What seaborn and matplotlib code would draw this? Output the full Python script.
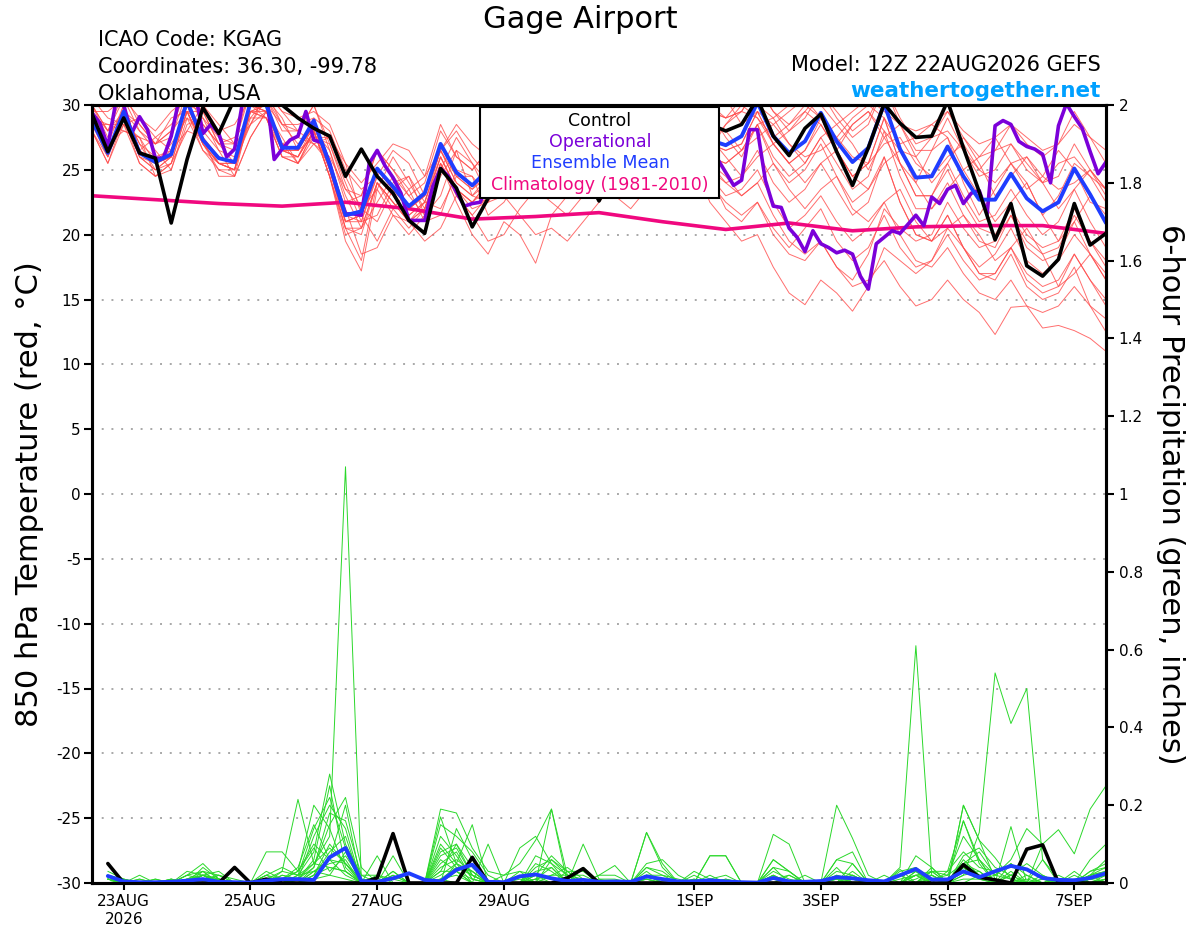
import numpy as np
import pandas as pd
import seaborn as sns
from matplotlib import pyplot as plt
from matplotlib.patches import Rectangle

px = 1/100

# ---- data (6-hourly from 12Z 22AUG2026) ----
run_start = pd.Timestamp('2026-08-22 12:00')

control_t = [29.3,26.4,29.0,26.3,25.9,20.9,25.8,29.8,27.8,30.5,31.5,31.0,30.0,
             29.0,28.2,27.6,24.5,26.6,24.5,23.2,21.1,20.1,25.1,23.6,20.6,22.8,
             25.5,27.0,26.0,27.5,26.0,25.0,22.6,25.0,27.0,28.0,27.0,28.5,29.0,
             28.5,28.0,28.5,30.5,27.6,26.1,28.2,29.3,26.4,23.8,26.7,30.1,28.6,
             27.5,27.6,30.3,26.7,23.3,19.6,22.4,17.6,16.8,18.1,22.4,19.2,20.1]

mean_t = [28.8,26.3,29.5,26.3,25.6,26.2,30.3,27.3,25.9,25.6,30.2,30.0,26.7,
          26.7,28.8,25.4,21.5,21.8,25.1,23.7,22.2,23.2,27.0,24.8,23.8,25.0,
          26.0,27.0,26.5,27.5,27.0,26.0,25.5,26.5,27.5,28.0,27.5,28.0,28.5,
          27.3,26.9,27.6,30.2,27.6,26.3,27.2,29.4,27.2,25.6,26.7,30.1,26.6,
          24.4,24.5,26.8,24.5,22.7,22.7,24.7,22.8,21.8,22.5,25.1,23.1,20.9]

# operational run is 3-hourly
oper_t = [29.4,28.6,26.8,30.2,30.0,27.8,29.1,28.1,25.9,25.9,27.6,30.5,31.5,31.0,27.8,28.5,
          27.8,26.0,26.6,30.2,31.5,32.0,31.0,25.8,26.6,27.3,27.6,29.5,27.3,27.1,25.5,23.4,
          21.6,21.6,21.5,25.5,26.5,25.3,24.4,23.2,21.1,21.1,21.1,23.7,25.1,24.5,23.3,22.2,
          22.4,22.5,24.0,25.5,26.5,27.0,28.0,27.5,28.5,29.0,30.5,31.0,30.0,29.0,28.0,28.5,
          27.5,27.0,28.0,29.0,30.5,31.0,30.0,29.5,28.0,27.5,28.5,29.5,28.5,27.0,26.5,25.8,
          24.8,23.8,24.2,28.1,28.1,24.2,22.2,22.1,20.5,19.8,18.7,20.3,19.3,19.0,18.6,18.8,
          18.5,16.8,15.8,19.3,19.8,20.3,20.1,20.8,21.5,20.7,22.9,22.4,23.5,23.8,22.4,23.2,
          23.4,21.6,28.4,28.8,28.5,27.2,26.8,26.6,26.2,24.0,28.4,30.1,29.1,28.2,26.4,24.7,
          25.6]

# daily climatology
clim_t = [23.0,22.7,22.4,22.2,22.5,22.0,21.2,21.4,21.7,21.0,20.4,20.9,20.3,20.6,20.7,20.7,20.1]

members_t = [
    [30.0,28.0,31.0,28.5,27.0,28.0,31.5,29.0,27.5,27.0,31.5,31.0,28.5,
     28.0,30.0,27.0,23.5,23.0,26.5,25.0,23.5,24.5,28.5,26.0,25.0,26.5,
     28.0,29.0,28.0,29.5,29.0,28.0,27.5,28.5,29.5,30.5,29.0,30.0,30.5,
     29.5,29.0,29.5,31.5,29.5,28.5,29.5,31.0,29.5,28.0,29.0,31.5,29.0,
     27.0,27.5,29.5,27.5,26.0,26.5,28.5,27.0,26.0,27.0,29.5,27.5,25.5],
    [28.0,25.5,28.5,25.5,24.5,25.0,29.0,26.5,25.0,24.5,29.5,29.0,26.0,
     25.5,28.0,24.5,20.0,20.5,24.0,22.5,21.0,22.0,26.0,23.5,22.5,23.5,
     25.0,26.0,25.0,26.5,26.0,25.0,24.5,25.5,26.5,27.0,26.5,27.0,27.5,
     26.0,25.5,26.5,28.5,25.5,24.0,25.0,27.0,24.5,22.5,23.5,26.0,22.5,
     20.0,19.5,21.5,19.0,17.0,16.5,18.5,16.0,15.0,15.5,17.5,14.5,12.5],
    [29.0,26.5,29.5,27.0,25.0,26.0,30.0,27.5,26.0,25.5,30.0,29.5,27.0,
     26.5,28.5,25.5,21.0,21.5,25.0,23.5,22.0,23.0,26.5,24.5,23.5,24.5,
     25.5,26.5,26.0,27.0,26.5,25.5,25.0,26.0,27.0,27.5,27.0,27.5,27.0,
     25.5,24.0,23.0,24.0,21.5,19.5,18.5,19.5,17.5,16.0,16.5,18.0,16.0,
     14.5,15.0,16.5,15.0,14.0,12.3,14.4,14.5,12.8,13.0,12.6,12.0,11.0],
    [28.5,28.5,28.0,27.5,27.0,29.0,29.5,28.5,27.0,27.5,29.0,30.5,28.5,
     27.0,28.0,26.5,23.0,20.5,22.5,24.5,23.0,21.5,24.5,26.5,23.0,22.5,
     24.5,26.5,28.0,27.0,26.0,27.5,28.5,27.0,26.5,28.0,29.0,28.0,27.0,
     26.5,28.5,29.5,29.0,27.5,28.5,30.0,29.0,27.0,28.5,29.5,28.0,26.5,
     26.0,27.5,28.0,26.5,25.0,26.5,27.0,25.5,24.0,25.5,26.0,24.5,23.5],
    [29.0,26.0,30.0,26.5,25.5,26.5,30.0,27.0,25.5,25.0,30.0,29.5,26.5,
     26.5,28.5,25.0,21.0,21.5,25.0,23.5,22.0,23.0,27.0,24.5,23.5,25.0,
     26.0,27.0,26.5,27.5,27.0,25.5,24.5,26.0,26.5,27.0,26.0,26.5,25.5,
     22.5,21.0,19.5,20.0,17.5,15.5,14.6,16.5,15.5,14.1,16.0,19.0,18.0,
     17.0,18.0,20.5,19.0,17.5,18.5,20.5,18.0,17.0,18.0,20.0,18.5,17.0],
    [28.0,26.0,29.5,26.0,25.5,26.0,29.5,27.0,25.5,25.5,29.5,30.0,26.5,
     26.0,28.0,24.5,19.5,17.2,23.5,21.5,20.0,21.5,25.5,23.0,21.5,23.0,
     25.0,26.0,25.5,27.0,26.0,25.0,24.5,26.0,27.0,28.0,27.5,28.0,28.5,
     27.0,26.5,27.0,29.5,27.0,25.5,26.5,28.5,26.5,24.5,25.5,29.0,25.5,
     23.0,23.0,25.0,22.5,20.5,20.0,22.0,20.0,19.0,19.5,22.0,19.5,17.5],
    [30.5,29.0,28.5,29.0,27.5,26.5,28.0,30.0,28.5,27.0,28.5,31.0,29.5,
     28.0,27.0,27.5,24.5,22.0,23.5,26.0,24.0,22.0,25.0,27.5,25.5,24.0,
     27.5,29.5,28.5,27.5,29.0,28.5,27.0,28.5,29.5,28.0,29.5,30.5,29.0,
     27.0,28.5,30.0,29.0,27.0,28.0,29.5,28.5,26.5,28.5,29.5,27.5,25.5,
     24.0,26.5,27.5,24.0,21.5,23.5,25.5,24.0,21.5,23.0,25.5,24.5,22.5],
    [28.5,26.5,29.5,27.0,26.0,26.5,30.0,27.5,26.0,25.5,30.0,29.0,26.0,
     26.0,28.0,25.0,20.5,18.0,24.0,22.0,20.5,22.0,25.5,22.5,20.0,18.5,
     21.0,20.0,17.8,21.5,23.0,24.0,24.0,25.0,26.0,27.0,26.5,27.0,27.5,
     26.0,25.5,26.5,28.5,26.0,24.5,25.5,27.5,25.5,23.5,24.5,28.0,24.5,
     22.0,22.0,24.0,21.5,19.5,19.0,21.5,19.0,18.0,18.5,21.0,18.5,16.5],
    [29.5,28.0,29.5,28.5,27.0,28.0,29.5,29.5,27.0,26.5,29.5,30.0,28.5,
     28.5,29.0,28.0,25.0,23.5,24.5,26.5,25.5,23.0,26.5,28.0,26.0,24.5,
     26.5,29.0,29.5,28.0,27.5,29.5,30.5,29.0,28.0,29.5,30.5,29.0,28.5,
     29.5,30.5,28.5,29.5,28.5,29.5,30.5,29.0,27.5,29.0,30.0,29.0,27.0,
     27.5,28.5,27.5,25.0,26.0,27.5,25.5,23.5,24.5,26.5,25.0,22.5,22.0],
    [28.5,26.0,29.0,26.0,25.0,26.0,29.5,27.0,25.0,25.0,29.5,29.5,26.5,
     26.0,28.5,25.0,21.0,21.0,24.5,23.0,21.5,22.5,26.5,24.0,23.0,24.0,
     25.5,26.5,26.0,27.0,26.5,25.5,25.0,26.0,27.0,27.5,27.0,27.5,27.0,
     24.5,23.0,23.5,25.0,22.5,20.5,21.5,23.0,21.0,19.5,20.5,22.5,20.0,
     18.0,17.5,19.0,17.0,15.5,15.0,16.5,14.5,14.0,14.5,16.0,14.5,13.5],
    [29.0,28.5,28.5,26.5,27.5,28.5,30.0,29.5,27.0,25.5,28.5,30.5,29.0,
     26.5,27.5,27.0,24.0,21.0,21.5,24.0,24.5,21.5,23.0,26.5,25.5,23.0,
     24.0,25.5,27.5,27.0,25.5,26.5,28.0,27.5,26.0,27.0,28.5,29.0,28.0,
     29.5,27.5,26.0,28.5,29.0,27.0,25.5,27.5,28.5,27.0,25.0,27.5,28.5,
     26.0,24.0,25.5,27.5,25.5,23.0,24.5,26.0,24.0,22.0,23.5,25.0,23.5],
    [28.0,25.5,29.0,25.5,24.5,25.5,29.5,26.5,25.5,25.0,29.0,29.0,26.0,
     25.5,28.0,24.5,20.5,20.0,24.0,22.5,21.0,22.5,26.0,23.5,22.5,24.0,
     25.0,26.0,25.5,26.5,26.0,25.0,24.5,25.5,26.5,27.5,27.0,27.5,28.0,
     27.0,26.5,27.0,29.5,27.0,25.5,26.5,29.0,26.5,24.5,25.5,29.0,25.5,
     23.0,23.0,25.5,23.0,21.0,21.5,23.5,21.5,20.0,21.0,23.5,21.0,19.0],
    [30.0,27.5,29.5,28.0,26.5,25.0,28.5,29.0,26.5,24.5,27.5,29.5,27.5,
     25.5,27.5,27.5,25.5,21.5,19.5,22.0,23.5,21.0,21.5,25.0,24.5,21.5,
     22.5,24.5,26.5,25.5,24.0,25.5,27.0,26.0,25.0,26.5,28.0,27.0,26.0,
     27.5,26.0,24.5,26.0,27.0,25.5,24.0,25.5,26.5,24.5,23.5,25.5,26.5,
     24.0,22.0,23.5,25.0,23.0,21.0,22.5,24.0,21.5,19.5,21.0,23.0,21.5],
    [29.0,26.5,29.5,26.5,25.5,26.0,30.0,27.0,25.5,25.5,30.0,29.5,26.5,
     26.5,28.5,25.0,21.0,21.5,24.5,23.0,21.5,22.5,26.0,23.5,22.0,22.5,
     23.0,21.5,20.0,20.5,19.5,21.0,22.5,24.0,25.0,26.0,25.5,26.0,26.5,
     25.0,24.0,24.5,26.5,24.0,22.5,23.5,25.5,23.5,21.5,22.5,26.0,22.5,
     20.0,19.5,21.5,19.0,17.0,17.0,19.0,16.5,15.5,16.0,18.5,16.5,14.5],
    [29.5,29.5,30.5,29.0,28.0,29.5,30.5,30.0,28.0,28.5,30.5,31.0,29.5,
     29.0,29.5,28.5,25.5,24.0,25.5,27.0,26.5,24.5,26.5,28.5,27.0,26.0,
     27.0,28.5,29.5,29.0,28.0,29.0,30.5,29.5,28.5,29.5,30.5,30.0,29.5,
     30.0,29.0,30.5,30.0,29.0,30.0,31.0,30.0,28.5,29.5,30.5,29.5,28.5,
     28.0,28.5,29.5,28.0,27.0,27.5,28.5,27.5,26.5,27.0,28.5,27.5,26.5],
    [28.5,27.0,28.0,27.5,25.5,27.0,29.0,28.0,26.5,26.0,28.5,29.5,27.0,
     27.5,27.0,26.0,23.5,22.0,21.0,23.5,24.5,22.5,22.0,24.5,24.5,23.0,
     24.5,25.0,26.5,26.5,25.0,25.5,27.0,26.5,25.5,26.0,27.5,27.0,26.5,
     28.5,28.0,26.5,27.5,28.5,27.0,26.0,26.5,27.5,26.0,25.5,27.0,27.5,
     25.5,24.5,26.0,27.0,25.0,24.0,25.5,26.0,24.5,23.5,24.0,25.0,23.5],
    [29.0,27.0,30.0,26.5,25.5,26.0,30.5,27.5,25.5,25.0,30.0,30.0,27.0,
     26.5,29.0,25.5,21.5,21.0,25.0,23.5,22.0,23.0,26.5,24.0,23.0,24.5,
     26.0,26.5,26.0,27.0,26.5,25.5,25.0,26.0,26.5,27.0,26.0,26.5,26.0,
     24.0,22.5,21.5,22.5,20.0,18.5,18.0,19.5,17.5,16.5,18.5,22.0,20.5,
     19.5,20.0,22.5,20.5,19.0,19.5,21.5,19.5,18.5,19.0,21.5,19.5,18.0],
    [30.0,28.0,30.5,28.0,27.0,27.5,31.0,28.5,27.0,27.0,31.0,30.5,28.0,
     28.0,30.0,26.5,22.5,23.0,26.5,25.0,23.0,24.0,28.0,26.0,25.0,26.5,
     28.0,29.0,28.5,29.5,29.0,28.0,27.5,28.5,29.5,30.0,29.5,30.0,30.5,
     29.5,29.0,29.5,31.5,29.5,28.0,29.0,31.0,29.0,27.5,28.5,31.5,28.5,
     26.5,26.5,29.0,26.5,24.5,25.0,27.0,25.0,24.0,24.5,27.0,25.0,23.0],
    [28.5,26.5,29.0,26.0,25.0,25.5,29.5,27.0,25.5,25.0,29.5,29.0,26.5,
     26.0,28.0,24.5,20.5,20.5,24.0,22.5,21.0,22.0,25.5,23.5,22.5,24.0,
     25.5,26.5,26.0,27.0,26.5,25.5,25.0,26.0,27.0,27.5,27.0,27.0,26.5,
     24.5,22.0,21.0,22.5,20.5,19.0,20.5,22.0,19.5,18.0,19.0,21.5,19.0,
     17.5,18.0,20.0,18.0,16.5,17.0,19.0,17.0,16.0,16.5,18.5,16.5,15.0],
    [29.5,26.5,28.5,27.5,24.5,25.5,28.0,27.5,24.5,24.5,27.5,29.5,27.0,
     25.5,27.0,25.5,22.0,18.5,19.0,21.5,21.0,19.5,20.5,23.0,21.5,19.5,
     20.0,22.0,23.5,22.5,21.5,23.0,24.0,23.0,22.0,23.5,25.0,24.5,23.5,
     25.5,24.5,23.0,24.0,25.5,23.5,22.0,23.5,24.5,22.0,21.0,22.5,23.5,
     21.0,19.5,20.5,21.5,20.0,18.0,19.0,20.5,18.5,16.0,17.0,18.5,16.5],
]

# 6-hour precipitation (inches), valid 18Z 22AUG .. 12Z 7SEP
control_p = [0.05,0,0,0,0,0,0,0,
             0.04,0,0.01,0,0,0,0,0,
             0,0.013,0.127,0,0,0,0,0.066,
             0,0,0,0,0,0.013,0.037,0,
             0,0,0,0,0,0,0,0,
             0,0,0,0,0,0,0,0,
             0,0,0,0,0,0,0.047,0.015,
             0.008,0,0.087,0.098,0,0,0,0]

mean_p = [0.018,0.004,0.002,0.002,0.003,0.006,0.010,0.003,
          0.002,0.001,0.006,0.010,0.010,0.008,0.066,0.090,
          0.005,0.003,0.012,0.025,0.008,0.004,0.034,0.047,
          0.003,0.002,0.017,0.022,0.012,0.005,0.008,0.003,
          0.004,0.003,0.017,0.010,0.004,0.004,0.007,0.004,
          0.002,0.001,0.013,0.004,0.003,0.005,0.015,0.012,
          0.007,0.004,0.020,0.036,0.009,0.009,0.030,0.015,
          0.030,0.044,0.035,0.013,0.008,0.007,0.013,0.025]

members_p = [
    [0.02,0,0,0,0,0.01,0.03,0, 0,0,0,0,0.02,0.05,0.12,1.07, 0.01,0,0.02,0,0,0,0.05,0.03,
     0,0,0,0.02,0.01,0,0,0, 0,0,0.02,0.01,0,0,0,0, 0,0,0.01,0,0,0,0.02,0.01,
     0,0,0,0.02,0,0,0.03,0.01, 0,0,0.01,0,0,0,0.02,0.03],
    [0.03,0.01,0,0,0,0,0.02,0, 0,0,0,0.03,0.02,0.08,0.28,0.1, 0.02,0,0,0,0,0,0.14,0.06,
     0,0,0,0.05,0.03,0,0.01,0, 0,0,0.05,0.06,0.02,0,0,0, 0,0,0,0.02,0,0,0,0.03,
     0,0,0,0,0.01,0.02,0.05,0.02, 0,0.02,0,0,0,0,0.01,0.02],
    [0.01,0,0.01,0,0,0,0.04,0.01, 0,0,0.01,0.03,0.215,0.05,0.04,0.03, 0,0,0,0,0,0.01,0.04,0.02,
     0,0,0.02,0,0.19,0.02,0,0, 0,0,0,0,0,0.02,0,0, 0,0,0.06,0.03,0,0,0,0.05,
     0,0,0,0.02,0,0,0.2,0.11, 0.065,0.01,0,0,0.01,0,0.03,0.04],
    [0.02,0.01,0,0,0,0.02,0.03,0.02, 0,0,0.08,0.08,0.03,0.2,0.14,0.03, 0,0,0.02,0,0,0.15,0.12,0.08,
     0.02,0,0,0.01,0,0,0.04,0, 0,0,0.13,0.04,0,0,0.01,0, 0,0,0.04,0,0,0,0.06,0.08,
     0,0,0.02,0,0.03,0.02,0.12,0.06, 0.02,0.05,0,0.01,0,0,0,0.01],
    [0.01,0,0,0.01,0,0.02,0.05,0.01, 0,0,0.02,0.01,0.04,0.15,0.06,0.02, 0,0,0,0,0,0.19,0.18,0.09,
     0.03,0.02,0.05,0.11,0.19,0,0,0.02, 0.045,0,0,0,0,0,0.07,0.07, 0,0,0,0,0.02,0,0,0.02,
     0,0,0,0,0.04,0,0.16,0.05, 0,0,0.02,0,0,0,0.02,0.06],
    [0.02,0,0,0,0.01,0,0.02,0.03, 0,0,0,0,0.01,0.12,0.2,0.14, 0,0,0.07,0,0,0.1,0.05,0.15,
     0,0,0,0.03,0.04,0,0.1,0.01, 0,0,0.04,0.03,0,0,0,0, 0,0,0,0,0,0,0,0,
     0,0,0.04,0.61,0.02,0,0,0.02, 0,0,0,0,0,0,0.02,0],
    [0,0,0.02,0,0,0.02,0.01,0.01, 0,0,0,0,0,0.04,0.15,0.22, 0.04,0,0.03,0,0,0,0.03,0,
     0.1,0,0.03,0,0,0,0,0, 0,0,0,0,0,0.01,0,0, 0,0,0.02,0,0,0,0,0,
     0,0,0,0,0,0,0.02,0.13, 0.54,0.41,0.5,0.06,0,0,0.01,0],
    [0.01,0,0,0,0,0,0,0.02, 0,0,0,0.01,0.03,0.1,0.06,0.2, 0,0,0,0,0,0.08,0.1,0.04,
     0,0.02,0.03,0.02,0,0,0,0, 0,0,0.13,0.05,0,0,0,0, 0,0,0,0,0,0,0.2,0.115,
     0.02,0,0.035,0,0.02,0,0.05,0.08, 0.02,0.06,0.14,0.1,0.137,0.075,0.19,0.25],
    [0,0.01,0,0,0.01,0,0.03,0, 0,0,0,0,0.02,0.14,0.22,0.09, 0,0.07,0,0,0,0.17,0.05,0,
     0,0,0.09,0.12,0.05,0,0.04,0, 0,0,0,0,0,0,0.01,0, 0,0,0.125,0.1,0,0,0,0,
     0,0,0,0,0.01,0,0.2,0.11, 0.01,0,0,0.02,0,0.03,0,0],
    [0,0,0,0,0,0.03,0.02,0, 0,0,0,0,0.01,0.06,0.25,0.04, 0,0,0,0,0,0.07,0.09,0.02,
     0,0,0,0.07,0.05,0.02,0.01,0, 0,0,0.04,0.02,0.01,0,0.07,0.07, 0,0,0.06,0.03,0,0,0.06,0.05,
     0,0,0,0.07,0.04,0,0.05,0.06, 0,0.145,0,0.1,0,0,0.06,0.1],
    [0.01,0,0,0,0,0,0.01,0.02, 0.01,0,0.02,0.04,0.02,0.03,0.05,0.06, 0,0.02,0,0,0,0.04,0.06,0.03,
     0,0,0,0,0,0,0,0.02, 0.02,0,0.02,0.02,0,0,0.01,0.02, 0,0,0.04,0.03,0,0,0,0,
     0,0,0,0,0.03,0,0.05,0.03, 0,0.05,0.02,0,0,0,0.02,0.04],
    [0,0,0.01,0,0.01,0,0.02,0.01, 0,0,0.03,0.01,0,0.02,0.08,0.12, 0,0,0,0,0,0.05,0.08,0.01,
     0,0,0,0.02,0.07,0.03,0,0, 0,0,0.01,0,0,0.03,0.01,0, 0,0,0.02,0,0,0,0.01,0.02,
     0,0,0,0.03,0,0.03,0.16,0.06, 0,0,0,0.01,0,0,0.01,0.02],
    [0,0,0,0,0,0.01,0.02,0.01, 0,0,0,0.02,0.01,0.04,0.18,0.16, 0.02,0.02,0.01,0,0,0.09,0.04,0.03,
     0,0,0,0.04,0.06,0.03,0.03,0, 0,0,0.01,0,0,0,0,0.01, 0,0,0.03,0.01,0,0,0.03,0.02,
     0,0,0.01,0.02,0.03,0.03,0.08,0.04, 0.03,0.01,0,0,0.02,0,0,0.01],
    [0.02,0,0,0,0,0,0.02,0, 0,0,0,0,0,0.02,0.1,0.05, 0.01,0,0,0,0,0.12,0.07,0.01,
     0,0,0.01,0,0.06,0.02,0.02,0, 0,0,0.02,0,0,0,0,0, 0,0,0.01,0,0,0,0,0.01,
     0,0.02,0,0.01,0.03,0,0.06,0.02, 0.01,0,0,0.06,0.01,0,0,0.01],
    [0,0,0,0.01,0,0.01,0.02,0, 0,0,0,0.01,0.03,0.09,0.03,0.07, 0.01,0,0,0,0,0.03,0.1,0.02,
     0,0,0,0.01,0.02,0.02,0,0.01, 0.01,0,0.02,0,0,0,0,0, 0,0,0,0,0,0,0,0.01,
     0,0,0.02,0.03,0,0,0.07,0.09, 0.04,0.02,0,0,0,0.02,0,0.01],
    [0.01,0,0,0,0,0,0.01,0, 0,0,0,0.02,0.01,0.05,0.09,0.05, 0,0,0,0,0,0.02,0.05,0.02,
     0,0,0,0,0.02,0.04,0.01,0, 0,0,0,0,0,0,0,0, 0,0,0.02,0,0,0,0.02,0,
     0,0,0,0.02,0.02,0,0.04,0.02, 0,0.02,0.05,0.02,0,0,0.03,0.05],
    [0.01,0,0,0,0,0.01,0,0.01, 0,0,0.02,0,0,0.03,0.06,0.05, 0,0,0.03,0,0,0.03,0.03,0,
     0,0,0,0,0,0.03,0,0, 0,0,0.03,0,0,0,0.02,0, 0,0,0,0,0,0,0.04,0,
     0,0,0.03,0.04,0.01,0,0.02,0.03, 0,0.03,0,0,0,0.01,0,0.02],
    [0,0,0,0,0,0,0,0.01, 0,0,0,0,0,0.02,0.04,0.03, 0,0,0,0,0,0.06,0.03,0.01,
     0,0,0,0.01,0.04,0,0,0, 0,0,0.01,0,0,0,0,0.01, 0,0,0.01,0.02,0,0,0.01,0,
     0,0,0,0.03,0,0,0.04,0.01, 0.02,0.01,0,0,0,0,0.02,0.03],
    [0.01,0,0,0,0,0,0,0, 0,0,0,0.01,0,0.03,0.02,0.08, 0,0,0,0,0,0.01,0.02,0,
     0,0,0,0,0,0.01,0,0, 0,0,0,0,0,0.01,0,0, 0,0,0,0,0,0,0.01,0.01,
     0,0,0,0,0.01,0,0.01,0.01, 0,0,0,0,0.01,0,0.01,0.02],
    [0,0,0,0,0,0,0.01,0, 0,0,0,0,0,0.01,0.02,0.01, 0,0,0,0,0,0.01,0,0,
     0,0,0,0,0,0,0,0, 0,0,0,0,0,0,0,0, 0,0,0,0,0,0,0,0,
     0,0,0,0,0.01,0,0,0, 0,0,0,0,0,0,0,0],
]

tick_days = ['2026-08-23', '2026-08-25', '2026-08-27', '2026-08-29',
             '2026-09-01', '2026-09-03', '2026-09-05', '2026-09-07']
tick_labels = ['23AUG\n2026', '25AUG', '27AUG', '29AUG', '1SEP', '3SEP', '5SEP', '7SEP']

assert len(control_t) == 65 and len(mean_t) == 65 and len(oper_t) == 129
assert all(len(m) == 65 for m in members_t), [len(m) for m in members_t]
assert len(control_p) == 64 and len(mean_p) == 64
assert all(len(m) == 64 for m in members_p), [len(m) for m in members_p]

times6 = pd.date_range(run_start, periods=65, freq='6h')
times3 = pd.date_range(run_start, periods=129, freq='3h')
times_clim = pd.date_range(run_start, periods=17, freq='24h')
times_p = times6[1:]

temp_df = pd.DataFrame({
    'time': np.tile(times6, len(members_t)),
    'temp': np.concatenate(members_t),
    'member': np.repeat(np.arange(len(members_t)), 65),
})
prcp_df = pd.DataFrame({
    'time': np.tile(times_p, len(members_p)),
    'prcp': np.concatenate(members_p),
    'member': np.repeat(np.arange(len(members_p)), 64),
})

# ---- figure ----
sns.set_style('ticks')
plt.rcParams['font.family'] = ['DejaVu Sans']
plt.rcParams.update({'text.color': 'black', 'axes.labelcolor': 'black',
                     'xtick.color': 'black', 'ytick.color': 'black'})

fig = plt.figure(figsize=(1200*px, 927*px), dpi=100)
ax = fig.add_axes([92/1200, 44/927, 1014/1200, 778/927])
ax2 = ax.twinx()

sns.lineplot(data=temp_df, x='time', y='temp', units='member', estimator=None,
             color='#ff4a4a', linewidth=0.7, alpha=0.8, legend=False, ax=ax)
sns.lineplot(x=times_clim, y=clim_t, color='#f0087f', linewidth=2.6, ax=ax)
sns.lineplot(x=times3, y=oper_t, color='#7b00d9', linewidth=2.6, ax=ax)
sns.lineplot(x=times6, y=mean_t, color='#1f3dff', linewidth=2.8, ax=ax)
sns.lineplot(x=times6, y=control_t, color='black', linewidth=2.6, ax=ax)

sns.lineplot(data=prcp_df, x='time', y='prcp', units='member', estimator=None,
             color='#2ad82a', linewidth=0.7, legend=False, ax=ax2)
sns.lineplot(x=times_p, y=control_p, color='black', linewidth=2.6, ax=ax2)
sns.lineplot(x=times_p, y=mean_p, color='#1f3dff', linewidth=2.8, ax=ax2)

x0 = run_start
x1 = run_start + pd.Timedelta(hours=384)
ax.set_xlim(x0, x1)
ax2.set_xlim(x0, x1)

ax.set_ylim(-30, 30)
ax.set_yticks(range(-30, 31, 5))
ax.set_yticklabels([str(v) for v in range(-30, 31, 5)])
ax2.set_ylim(0, 2)
p_ticks = [round(0.2 * i, 1) for i in range(11)]
ax2.set_yticks(p_ticks)
ax2.set_yticklabels(['0' if v == 0 else ('2' if v == 2 else f'{v:g}') for v in p_ticks])

ax.set_xticks([pd.Timestamp(d) for d in tick_days])
ax.set_xticklabels(tick_labels, multialignment='center')

ax.set_xlabel('')
ax.set_ylabel('')
ax2.set_ylabel('')

ax.grid(axis='y', linestyle=(0, (1, 4)), color='#a8a8a8', linewidth=1.4)
ax.grid(axis='x', visible=False)
ax.set_axisbelow(True)

for a in (ax, ax2):
    for s in a.spines.values():
        s.set_linewidth(2.2)
        s.set_color('black')
        s.set_visible(True)
ax.tick_params(axis='y', direction='out', length=6, width=1.5, labelsize=11, pad=2)
ax.tick_params(axis='x', direction='out', length=5, width=1.5, labelsize=11, pad=3)
ax2.tick_params(axis='y', direction='out', length=6, width=1.5, labelsize=11, pad=3)

# legend box
ax2.add_patch(Rectangle((0.3826, 0.8805), 0.2357, 0.117, transform=ax2.transAxes,
                        facecolor='white', edgecolor='black', linewidth=1.5, zorder=10))
leg_items = [('Control', 'black', 0.9794), ('Operational', '#7b00d9', 0.9524),
             ('Ensemble Mean', '#1f3dff', 0.9254), ('Climatology (1981-2010)', '#f0087f', 0.8972)]
for label, col, yy in leg_items:
    ax2.text(0.501, yy, label, color=col, fontsize=12.5, ha='center', va='center',
             transform=ax2.transAxes, zorder=11)

# titles and header
fig.text(580/1200, 1 - 28/927, 'Gage Airport', fontsize=22, ha='center', va='baseline')
fig.text(98/1200, 1 - 46/927, 'ICAO Code: KGAG', fontsize=15, ha='left', va='baseline')
fig.text(98/1200, 1 - 73/927, 'Coordinates: 36.30, -99.78', fontsize=15, ha='left', va='baseline')
fig.text(98/1200, 1 - 100/927, 'Oklahoma, USA', fontsize=15, ha='left', va='baseline')
fig.text(1101/1200, 1 - 71/927, 'Model: 12Z 22AUG2026 GEFS', fontsize=15, ha='right', va='baseline')
fig.text(1101/1200, 1 - 97/927, 'weathertogether.net', fontsize=15.5, fontweight='bold',
         color='#00a0ff', ha='right', va='baseline')

fig.text(30/1200, 1 - 494/927, '850 hPa Temperature (red, °C)', fontsize=22,
         rotation=90, ha='center', va='center')
fig.text(1170/1200, 1 - 494/927, '6-hour Precipitation (green, inches)', fontsize=22,
         rotation=270, ha='center', va='center')

plt.savefig('out.png', dpi=100)
